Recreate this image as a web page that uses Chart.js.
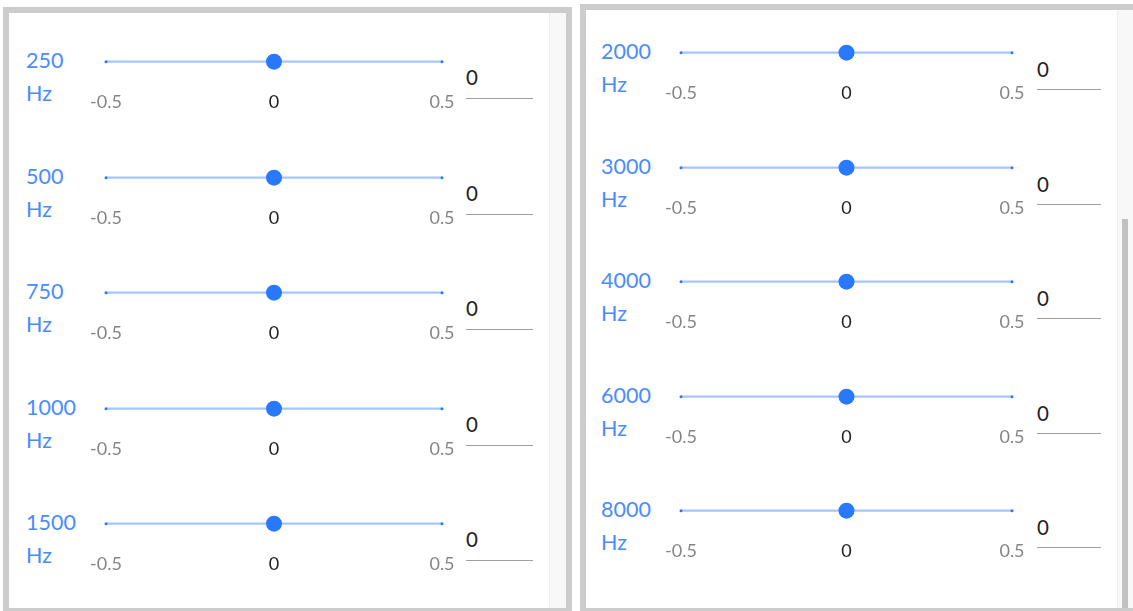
<!DOCTYPE html>
<html>
<head>
<meta charset="utf-8">
<script src="https://cdn.jsdelivr.net/npm/chart.js@4/dist/chart.umd.min.js"></script>
<style>
  html, body { margin: 0; padding: 0; width: 1133px; height: 611px; overflow: hidden; background: #ffffff; }
  body { position: relative; font-family: Lato, "Open Sans", sans-serif; }
  .panel { position: absolute; box-sizing: border-box; border: 6px solid #cccccc; background: #ffffff; }
  .track { position: absolute; background: #f8f8f8; border-left: 1px solid #eeeeee; box-sizing: border-box; }
  .thumbbar { position: absolute; background: #c1c1c1; }
  .freq { position: absolute; color: #4a8cff; font-size: 21.5px; line-height: 33px; white-space: nowrap; }
  .val { position: absolute; color: #222222; font-size: 20.5px; line-height: 24px; border-bottom: 1px solid #a0a0a0; box-sizing: content-box; }
  canvas { position: absolute; }
</style>
</head>
<body>
<div class="panel" style="left:3px;top:7px;width:569px;height:607px;"></div>
<div class="track" style="left:549px;top:13px;width:17px;height:595px;"></div>
<div class="panel" style="left:580px;top:4px;width:600px;height:610px;"></div>
<div class="track" style="left:1117px;top:10px;width:20px;height:598px;"></div>
<div class="thumbbar" style="left:1122px;top:219px;width:6px;height:389px;"></div>
<div id="rows"></div>
<script>
// ---- data ----
const frequencies = [250, 500, 750, 1000, 1500, 2000, 3000, 4000, 6000, 8000];
const gains = [0, 0, 0, 0, 0, 0, 0, 0, 0, 0];
const tickValues = [-0.5, 0, 0.5];
const rangeMin = -0.5;
const rangeMax = 0.5;
const unitLabel = 'Hz';

// ---- layout (two panels, five rows each) ----
const panels = [
  { trackX0: 106, trackX1: 442, trackY0: 62, step: 115.5, labelX: 26, labelDy: -18, valX: 466, valW: 67, valDy: 3, valPad: 9 },
  { trackX0: 681, trackX1: 1012, trackY0: 53, step: 114.5, labelX: 601, labelDy: -18, valX: 1037, valW: 64, valDy: 4, valPad: 8 }
];
const PADX = 30;
const HALF = 35;
const CANVAS_H = 89;

const rowsEl = document.getElementById('rows');
frequencies.forEach((f, i) => {
  const p = panels[Math.floor(i / 5)];
  const r = i % 5;
  const ty = Math.round(p.trackY0 + r * p.step);

  const lab = document.createElement('div');
  lab.className = 'freq';
  lab.style.left = p.labelX + 'px';
  lab.style.top = Math.round(ty + p.labelDy) + 'px';
  lab.innerHTML = f + '<br>' + unitLabel;
  rowsEl.appendChild(lab);

  const val = document.createElement('div');
  val.className = 'val';
  val.style.left = p.valX + 'px';
  val.style.width = p.valW + 'px';
  val.style.top = (ty + p.valDy) + 'px';
  val.style.paddingBottom = p.valPad + 'px';
  val.textContent = String(gains[i]);
  rowsEl.appendChild(val);

  const cv = document.createElement('canvas');
  const w = (p.trackX1 - p.trackX0) + 2 * PADX;
  cv.width = w; cv.height = CANVAS_H;
  cv.style.width = w + 'px'; cv.style.height = CANVAS_H + 'px';
  cv.style.left = (p.trackX0 - PADX) + 'px';
  cv.style.top = (ty - HALF) + 'px';
  rowsEl.appendChild(cv);

  new Chart(cv, {
    type: 'scatter',
    data: {
      datasets: [
        { data: [{ x: gains[i], y: 0 }], pointRadius: 8, pointHoverRadius: 8,
          pointBackgroundColor: '#2979ff', pointBorderWidth: 0, clip: false, order: 0 },
        { data: [{ x: rangeMin, y: 0 }, { x: rangeMax, y: 0 }], showLine: true,
          borderColor: '#a6c5fd', borderWidth: 2.2, pointRadius: 1.5, pointHoverRadius: 1.5,
          pointBackgroundColor: '#2979ff', pointBorderWidth: 0, clip: false, order: 1 }
      ]
    },
    options: {
      responsive: false, animation: false, devicePixelRatio: 1, events: [],
      layout: { padding: { left: PADX, right: PADX, top: 0, bottom: 0 } },
      plugins: { legend: { display: false }, tooltip: { enabled: false } },
      scales: {
        x: {
          type: 'linear', min: rangeMin, max: rangeMax,
          afterBuildTicks: s => { s.ticks = tickValues.map(v => ({ value: v })); },
          grid: { display: false, drawTicks: false },
          border: { display: false },
          ticks: {
            padding: 3, maxRotation: 0, autoSkip: false,
            font: { family: 'Lato', size: 18 },
            color: c => (c.tick && c.tick.value === 0) ? '#222222' : '#858585',
            callback: v => String(v)
          }
        },
        y: { display: false, min: -1, max: 1 }
      }
    }
  });
});
</script>
</body>
</html>
